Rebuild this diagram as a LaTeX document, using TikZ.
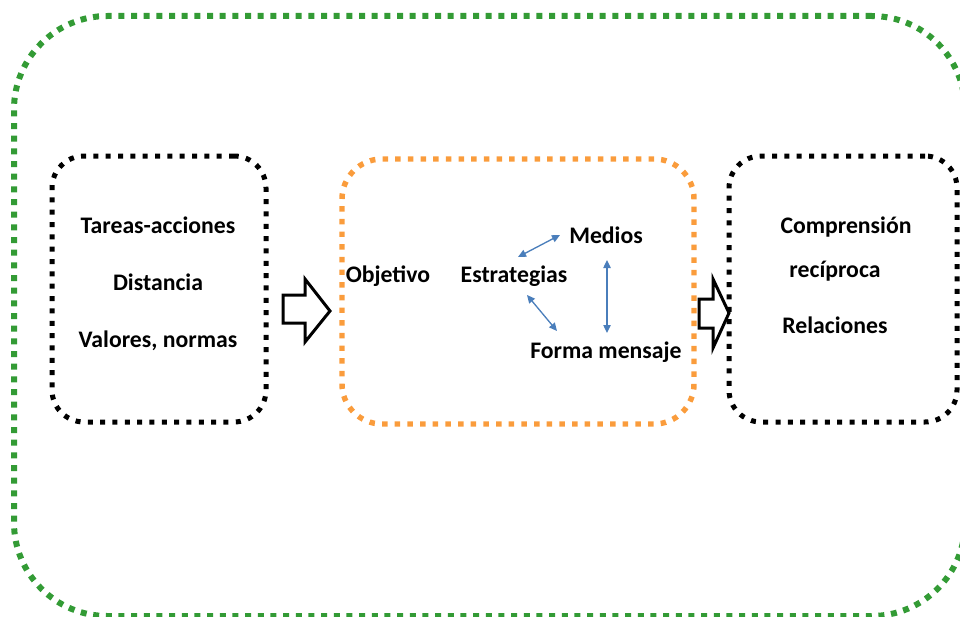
\documentclass[tikz,border=0pt]{standalone}
\usepackage{fontspec}
\setmainfont{Carlito}
\usetikzlibrary{arrows.meta}

\definecolor{frameGreen}{HTML}{339B35}
\definecolor{boxOrange}{HTML}{FA9C3C}
\definecolor{linkBlue}{HTML}{4A7EBB}

\begin{document}
\begin{tikzpicture}[x=0.75pt,y=-0.75pt,
  greenframe/.style={draw=frameGreen, line width=4.5pt, dash pattern=on 4.5pt off 5pt,
    rounded corners=70pt, minimum width=713.25pt, minimum height=450pt, inner sep=0pt},
  blackframe/.style={draw=black, line width=3.75pt, dash pattern=on 3.75pt off 5.5pt,
    rounded corners=24pt, minimum height=199.5pt, inner sep=0pt},
  orangeframe/.style={draw=boxOrange, line width=4.1pt, dash pattern=on 4.1pt off 5.4pt,
    rounded corners=30pt, minimum width=264pt, minimum height=198.75pt, inner sep=0pt},
  label/.style={font=\bfseries\fontsize{17.8pt}{21pt}\selectfont, inner sep=0pt, anchor=base},
  blockarrow/.style={draw=black, fill=white, line width=2.25pt, line join=miter},
  link/.style={draw=linkBlue, line width=1pt,
    {Triangle[length=6pt,width=5.5pt]}-{Triangle[length=6pt,width=5.5pt]}}
]
\useasboundingbox (0,0) rectangle (960,617);

% outer frame, running past the right edge
\node[greenframe] (outer) at (489.5,316) {};

% the three stages
\node[blackframe, minimum width=160.5pt] (left) at (159,289) {};
\node[orangeframe] (mid) at (518,291.5) {};
\node[blackframe, minimum width=171pt] (right) at (843,289) {};

% block arrows between stages
\draw[blockarrow] (283,295) -- (305,295) -- (305,279) -- (330,311) -- (305,342)
  -- (305,323) -- (283,323) -- cycle;
\draw[blockarrow] (699,299) -- (713,299) -- (713,279) -- (729,313) -- (713,348)
  -- (713,328) -- (699,328) -- cycle;

% left stage
\node[label] (tareas) at (158,233.5) {Tareas-acciones};
\node[label] (dist) at (158,290.5) {Distancia};
\node[label] (valores) at (158,347.5) {Valores, normas};

% middle stage
\node[label] (obj) at (388,282) {Objetivo};
\node[label] (estr) at (514,282) {Estrategias};
\node[label] (medios) at (606,243) {Medios};
\node[label] (forma) at (606,358) {Forma mensaje};

% right stage
\node[label] (compr) at (846,233) {Comprensión};
\node[label] (recip) at (835,277) {recíproca};
\node[label] (rel) at (835,333) {Relaciones};

% links between the elements of the message
\coordinate (e1) at (518,257);
\coordinate (m1) at (560,235);
\coordinate (e2) at (527,295);
\coordinate (f1) at (557,331);
\coordinate (m2) at (607,260);
\coordinate (f2) at (607,333);
\draw[link] (e1) -- (m1);
\draw[link] (e2) -- (f1);
\draw[link] (m2) -- (f2);
\end{tikzpicture}
\end{document}
